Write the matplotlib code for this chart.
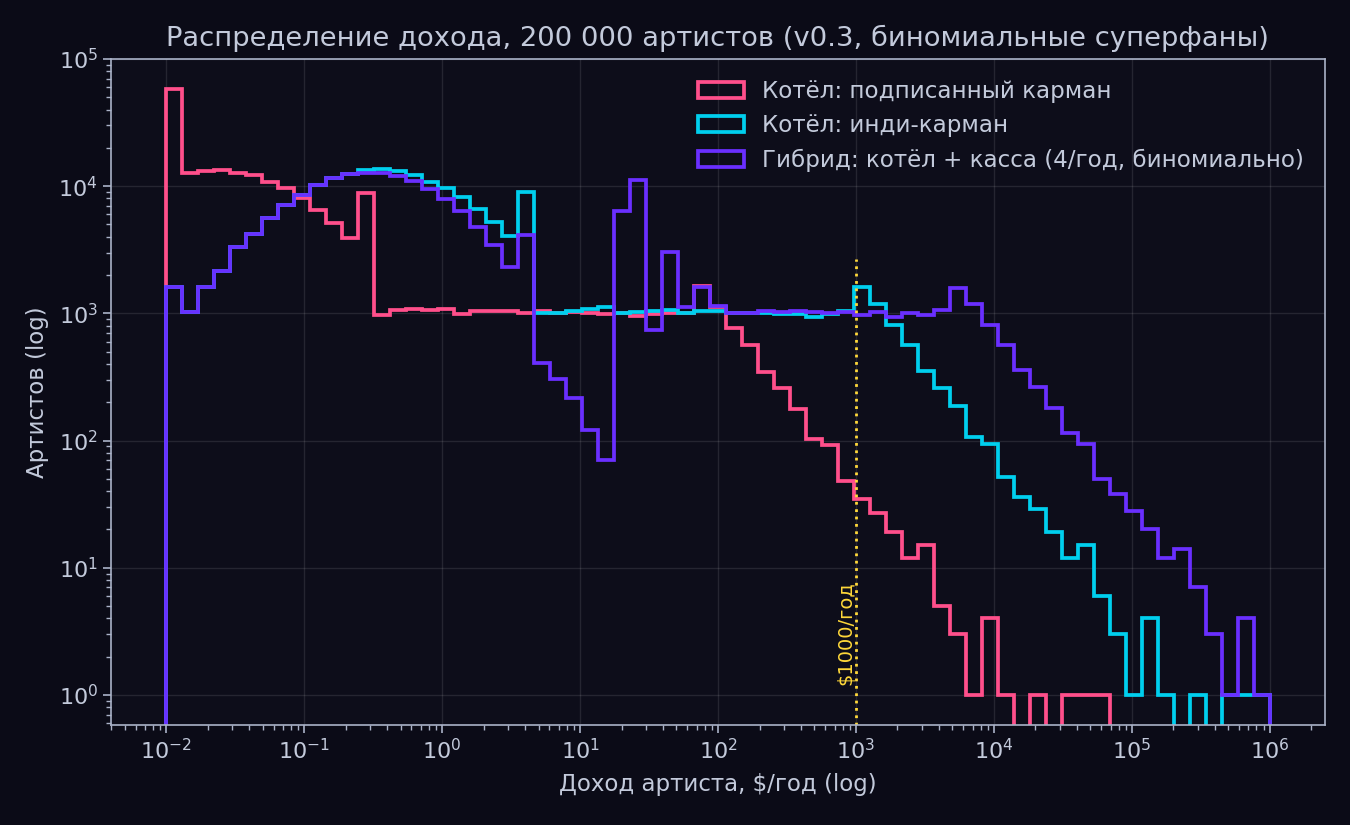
import numpy as np
import matplotlib
matplotlib.use('Agg')
import matplotlib.pyplot as plt

# log-spaced income bins, $/year
edges = np.logspace(-2, 6, 70)

# artists per bin
signed = [58000, 12600, 13200, 13500, 12700, 12200, 10800, 9700, 8100, 6500,
          5100, 3900, 8900, 970, 1060, 1090, 1070, 1090, 985, 1045,
          1040, 1050, 1010, 1035, 1015, 1020, 1000, 990, 1000, 950,
          990, 1000, 1000, 1640, 1120, 764, 565, 344, 258, 176,
          102, 92, 48, 35, 27, 19, 12, 15, 5, 3,
          1, 4, 1, 0, 1, 0, 1, 1, 1, 0,
          0, 0, 0, 0, 0, 0, 0, 0, 0]
indie = [1620, 1030, 1620, 2170, 3310, 4210, 5620, 7080, 8480, 10300,
         11600, 12500, 13300, 13600, 13200, 12200, 10800, 9700, 8270, 6650,
         5230, 4060, 9060, 1000, 1015, 1050, 1075, 1130, 1000, 1020,
         1050, 1060, 1015, 1035, 1035, 1015, 1000, 1000, 985, 985,
         942, 990, 1050, 1620, 1190, 810, 562, 355, 259, 188,
         107, 94, 52, 36, 29, 19, 12, 15, 6, 3,
         1, 4, 1, 0, 1, 0, 1, 1, 1]
hybrid = [1620, 1030, 1620, 2170, 3310, 4210, 5620, 7080, 8480, 10300,
          11500, 12400, 12800, 12800, 12100, 10900, 9500, 7990, 6380, 4810,
          3430, 2300, 4160, 405, 303, 215, 121, 70, 6420, 11200,
          740, 3050, 1120, 1600, 1140, 1000, 1000, 1050, 1025, 1035,
          1025, 1015, 1025, 970, 1025, 930, 1010, 970, 1060, 1580,
          1190, 806, 561, 359, 265, 179, 114, 94, 50, 38,
          28, 20, 12, 14, 7, 3, 1, 4, 1]

labels = ['Котёл: подписанный карман', 'Котёл: инди-карман',
          'Гибрид: котёл + касса (4/год, биномиально)']
colours = ['#ff4f8b', '#00cfee', '#6a2fff']

bg = '#0b0b17'
fg = '#c3cadb'
spine = '#aab2c8'

fig = plt.figure(figsize=(13.5, 8.25), dpi=100, facecolor=bg)
ax = fig.add_axes([0.0822, 0.1212, 0.8993, 0.8073])
ax.set_facecolor('#0d0d1a')

centres = np.sqrt(edges[:-1] * edges[1:])
for counts, lbl, col in zip([signed, indie, hybrid], labels, colours):
    ax.hist(centres, bins=edges, weights=counts, histtype='step',
            color=col, linewidth=2.7, label=lbl)

ax.set_xscale('log')
ax.set_yscale('log')
ax.set_ylim(0.58, 1e5)

ax.axvline(1e3, ymin=0, ymax=0.70, color='#ffd83a', linestyle=':', linewidth=2)
ax.text(850, 1.2, '$1000/год', rotation=90, ha='center', va='bottom',
        color='#ffd83a', fontsize=14)

ax.grid(True, which='major', color='#ffffff', alpha=0.1, linewidth=1)
ax.set_axisbelow(True)
for s in ax.spines.values():
    s.set_color(spine)
    s.set_linewidth(1.2)
ax.tick_params(which='both', colors=spine, labelcolor=fg, labelsize=16)
ax.tick_params(which='major', length=6, width=1.2)
ax.tick_params(which='minor', length=3.5, width=1)

ax.set_title('Распределение дохода, 200 000 артистов (v0.3, биномиальные суперфаны)',
             color=fg, fontsize=19.7, pad=9)
ax.set_xlabel('Доход артиста, $/год (log)', color=fg, fontsize=16.5, labelpad=7)
ax.set_ylabel('Артистов (log)', color=fg, fontsize=16.5, labelpad=7)

leg = ax.legend(loc='upper right', frameon=False, fontsize=16.6,
                borderaxespad=0.5, handlelength=2.0)
for t in leg.get_texts():
    t.set_color(fg)

fig.savefig('out.png', dpi=100, facecolor=bg)
